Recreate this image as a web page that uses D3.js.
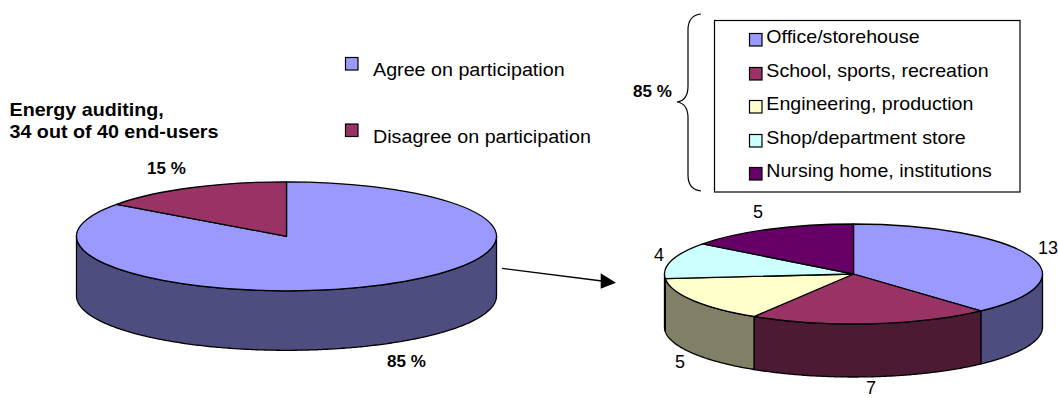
<!DOCTYPE html>
<html><head><meta charset="utf-8">
<script src="https://cdn.jsdelivr.net/npm/d3@7"></script>
<style>html,body{margin:0;padding:0;background:#fff}svg{display:block}text{font-family:"Liberation Sans",Arial,sans-serif;fill:#000}</style>
</head><body><svg id="c" width="1058" height="398"></svg>
<script>
const participationLabels = ["Agree on participation", "Disagree on participation"];
const participationValues = [85, 15];
const participationTexts = ["85 %", "15 %"];
const buildingTypes = ["Office/storehouse", "School, sports, recreation", "Engineering, production", "Shop/department store", "Nursing home, institutions"];
const buildingCounts = [13, 7, 5, 4, 5];
const participationColors = ["#9999FF", "#993366"];
const participationSides = ["#4D4D80", "#4D1A33"];
const buildingColors = ["#9999FF", "#993366", "#FFFFCC", "#CCFFFF", "#660066"];
const buildingSides = ["#4D4D80", "#4D1A33", "#808066", "#668080", "#330033"];

const svg = d3.select("#c");
const pieGen = d3.pie().sort(null).value(d => d);

function drawPie({values, colors, sides, cx, cy, rx, ry, depth}) {
  const arcs = pieGen(values);
  const px = a => cx + rx * Math.sin(a), py = a => cy - ry * Math.cos(a);
  const g = svg.append("g");
  const line = d3.line();
  arcs.forEach((d, i) => {
    const a0 = Math.max(d.startAngle, Math.PI / 2), a1 = Math.min(d.endAngle, 3 * Math.PI / 2);
    if (a1 <= a0) return;
    const n = Math.ceil((a1 - a0) / 0.01);
    const as = d3.range(n + 1).map(k => a0 + (a1 - a0) * k / n);
    const pts = as.map(a => [px(a), py(a)]).concat(as.slice().reverse().map(a => [px(a), py(a) + depth]));
    g.append("path").attr("d", line(pts) + "Z").attr("fill", sides[i]).attr("stroke", "#000").attr("stroke-width", 1.3).attr("stroke-linejoin", "round");
  });
  const arc = d3.arc().innerRadius(0).outerRadius(rx);
  g.selectAll("path.top").data(arcs).join("path").attr("class", "top")
    .attr("d", arc)
    .attr("transform", `translate(${cx},${cy}) scale(1,${ry / rx})`)
    .attr("vector-effect", "non-scaling-stroke")
    .attr("fill", (d, i) => colors[i]).attr("stroke", "#000").attr("stroke-width", 1.3).attr("stroke-linejoin", "round");
}

drawPie({values: participationValues, colors: participationColors, sides: participationSides, cx: 286.5, cy: 236.3, rx: 210, ry: 54.5, depth: 59.5});
drawPie({values: buildingCounts, colors: buildingColors, sides: buildingSides, cx: 853.5, cy: 274, rx: 189, ry: 50, depth: 53});

// Text is stretched horizontally in the reference
function label(x, y, t, size, bold, sx) {
  svg.append("text").attr("transform", `translate(${x},${y}) scale(${sx || 1},1)`).attr("font-size", size).attr("font-weight", bold ? "bold" : "normal").text(t);
}
function swatch(x, y, s, c) {
  svg.append("rect").attr("x", x).attr("y", y).attr("width", s).attr("height", s).attr("fill", c).attr("stroke", "#000").attr("stroke-width", 1.2);
}

label(9.5, 116, "Energy auditing,", 18, true, 1.094);
label(9.5, 138, "34 out of 40 end-users", 18, true, 1.094);

[57.5, 124].forEach((y, i) => {
  swatch(345.5, y, 12.5, participationColors[i]);
  label(373, y + 18.5, participationLabels[i], 18, false, 1.095);
});

label(147, 174, participationTexts[1], 17, true);
label(387, 367, participationTexts[0], 17, true);
label(633, 97, participationTexts[0], 17, true);

svg.append("path").attr("d", "M701,14 C692,15 688,20 688,30 L688,86 C688,96 684,101 677,102 C684,103 688,108 688,118 L688,175 C688,185 692,190 701,191")
  .attr("fill", "none").attr("stroke", "#000").attr("stroke-width", 1.2);

svg.append("rect").attr("x", 714.5).attr("y", 20.5).attr("width", 305.5).attr("height", 171.5).attr("fill", "#fff").attr("stroke", "#000").attr("stroke-width", 1.2);
const legendBase = [42.7, 77.3, 110, 143.7, 176.7];
buildingTypes.forEach((t, i) => {
  swatch(749.5, Math.round(legendBase[i] - 10) + 0.5, 12.5, buildingColors[i]);
  label(766.3, legendBase[i], t, 18, false, 1.09);
});

svg.append("path").attr("d", "M502,268.3 L602,281").attr("stroke", "#000").attr("stroke-width", 1.3);
svg.append("path").attr("d", "M616,282.7 L600.7,273.3 L600.7,288.7 Z").attr("fill", "#000");

const valuePos = [[1038, 254], [866, 394], [675, 368], [654, 261], [753, 218]];
buildingCounts.forEach((v, i) => label(valuePos[i][0], valuePos[i][1], String(v), 18));
</script></body></html>
